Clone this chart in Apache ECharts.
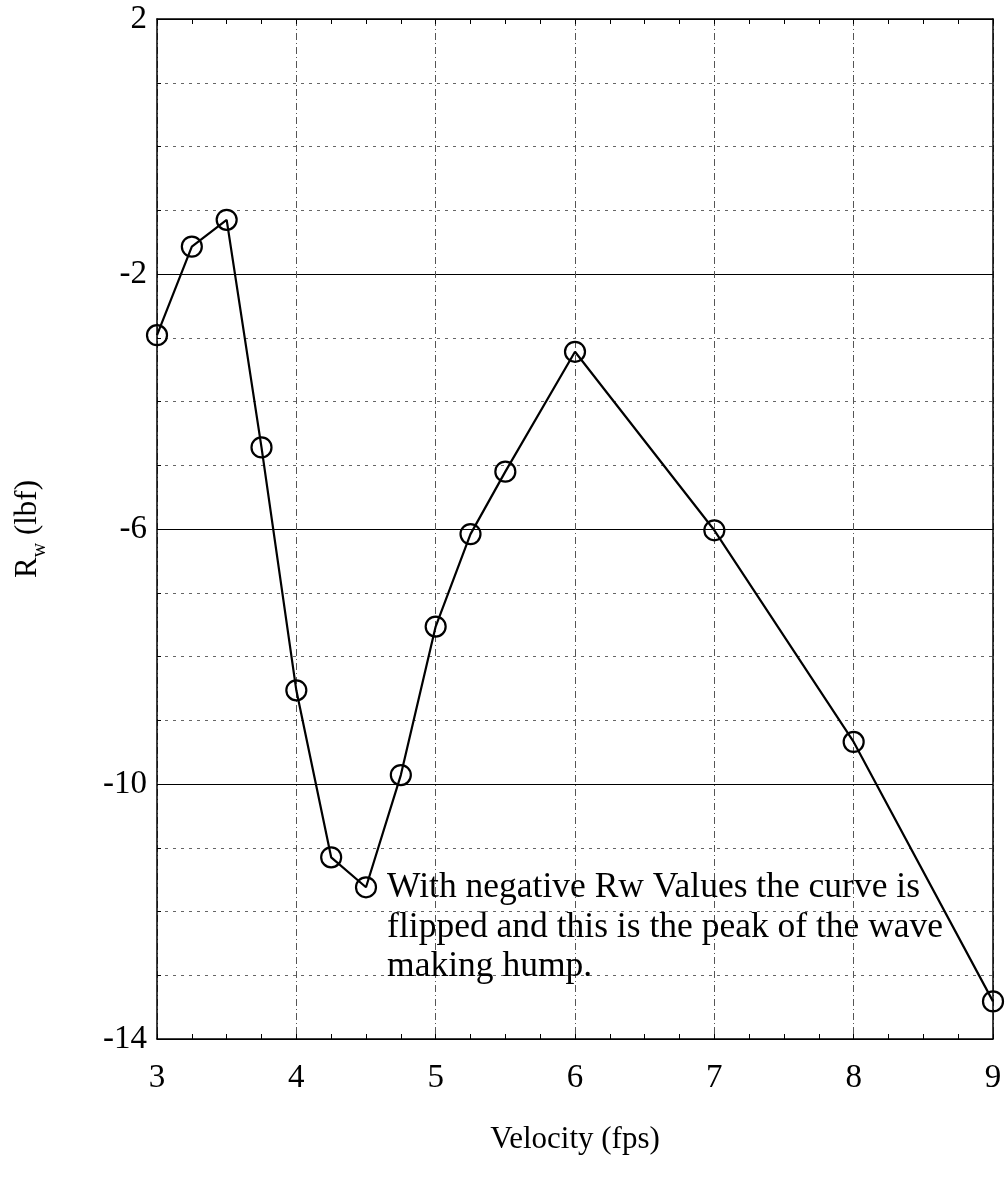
<!DOCTYPE html>
<html>
<head>
<meta charset="utf-8">
<script src="https://cdn.jsdelivr.net/npm/echarts@6/dist/echarts.min.js"></script>
<style>html,body{margin:0;padding:0;background:#fff}#c{width:1005px;height:1184px}</style>
</head>
<body>
<div id="c"></div>
<script>
const velocity = [3, 3.25, 3.5, 3.75, 4, 4.25, 4.5, 4.75, 5, 5.25, 5.5, 6, 7, 8, 9];
const rw = [-2.96, -1.57, -1.15, -4.72, -8.53, -11.15, -11.62, -9.86, -7.53, -6.08, -5.1, -3.22, -6.02, -9.34, -13.41];
const xTitle = 'Velocity (fps)';
const annotation = 'With negative Rw Values the curve is\nflipped and this is the peak of the wave\nmaking hump.';
const annotationIndex = 6;

const FONT = 'Liberation Serif';
const chart = echarts.init(document.getElementById('c'));
const data = velocity.map((v, i) => {
  const d = { value: [v, rw[i]] };
  if (i === annotationIndex) {
    d.label = {
      show: true, position: 'right', distance: 10,
      formatter: annotation, verticalAlign: 'top', offset: [0, -19],
      fontFamily: FONT, fontSize: 35.5, lineHeight: 39.5, color: '#000', align: 'left'
    };
  }
  return d;
});
chart.setOption({
  animation: false,
  backgroundColor: '#fff',
  grid: { left: 157, right: 12, top: 19, bottom: 145, outerBoundsMode: 'none', containLabel: false },
  xAxis: [{
    type: 'value', min: 3, max: 9, interval: 1,
    name: xTitle, nameLocation: 'middle', nameGap: 85,
    nameTextStyle: { fontFamily: FONT, fontSize: 31, color: '#000' },
    axisLine: { show: true, onZero: false, lineStyle: { color: '#000', width: 1.5 } },
    axisTick: { show: true, inside: true, length: 5, lineStyle: { color: '#000' } },
    minorTick: { show: true, splitNumber: 4, length: 5, lineStyle: { color: '#000' } },
    axisLabel: { fontFamily: FONT, fontSize: 33, color: '#000', margin: 23 },
    splitLine: { show: true, lineStyle: { color: '#555', width: 1, type: [7, 3, 1, 3] } }
  }, {
    type: 'value', min: 3, max: 9, interval: 1, position: 'top',
    axisLine: { show: true, onZero: false, lineStyle: { color: '#000', width: 1.5 } },
    axisTick: { show: true, inside: true, length: 5, lineStyle: { color: '#000' } },
    minorTick: { show: true, splitNumber: 4, length: 5, lineStyle: { color: '#000' } },
    axisLabel: { show: false }, splitLine: { show: false }
  }],
  yAxis: [{
    type: 'value', min: -14, max: 2, interval: 4,
    name: '{r|R}{s|w} (lbf)', nameLocation: 'middle', nameGap: 107, nameRotate: 90,
    nameTextStyle: {
      fontFamily: FONT, fontSize: 31, color: '#000',
      rich: {
        r: { fontFamily: FONT, fontSize: 31, color: '#000' },
        s: { fontFamily: FONT, fontSize: 20, color: '#000', verticalAlign: 'bottom', lineHeight: 44 }
      }
    },
    axisLine: { show: true, onZero: false, lineStyle: { color: '#000', width: 1.5 } },
    axisTick: { show: true, inside: true, length: 5, lineStyle: { color: '#000' } },
    minorTick: { show: true, splitNumber: 4, length: 4, lineStyle: { color: '#000' } },
    axisLabel: { fontFamily: FONT, fontSize: 33, color: '#000', margin: 10 },
    splitLine: { show: true, lineStyle: { color: '#000', width: 1 } },
    minorSplitLine: { show: true, lineStyle: { color: '#666', width: 1, type: [3, 5] } }
  }, {
    type: 'value', min: -14, max: 2, interval: 4, position: 'right',
    axisLine: { show: true, onZero: false, lineStyle: { color: '#000', width: 1.5 } },
    axisTick: { show: false }, axisLabel: { show: false }, splitLine: { show: false }
  }],
  series: [{
    type: 'line', xAxisIndex: 0, yAxisIndex: 0,
    data: data,
    symbol: 'circle', symbolSize: 20,
    itemStyle: { color: 'rgba(0,0,0,0)', borderColor: '#000', borderWidth: 2.2 },
    lineStyle: { color: '#000', width: 2.2 },
    z: 5
  }]
});
</script>
</body>
</html>
